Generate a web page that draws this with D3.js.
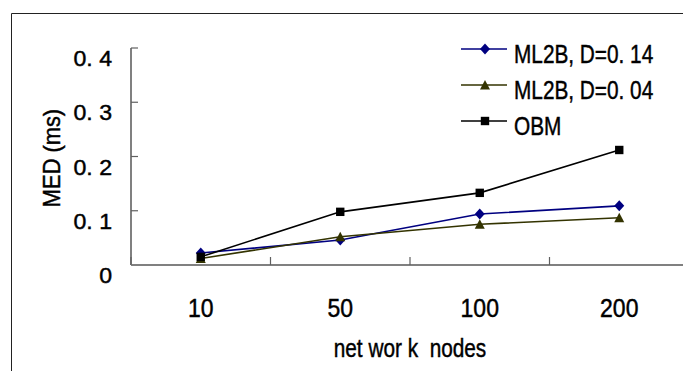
<!DOCTYPE html>
<html>
<head>
<meta charset="utf-8">
<script src="https://cdn.jsdelivr.net/npm/d3@7"></script>
<style>
    body { margin: 0; background: #fff; }
    text {
        font-family: "Liberation Sans", Arial, sans-serif;
        fill: #000;
        stroke: #000;
        stroke-width: 0.45px;
        white-space: pre;
    }
</style>
</head>
<body>
<div class="chart"></div>
<script>
'use strict';

const width = 683;
const height = 371;

// Data
const categories = ['10', '50', '100', '200'];
const ml2bHigh = [0.022, 0.046, 0.094, 0.109];
const ml2bLow = [0.012, 0.052, 0.075, 0.087];
const obm = [0.015, 0.098, 0.133, 0.212];
const yTicks = [0, 0.1, 0.2, 0.3, 0.4];
const seriesNames = ['ML2B, D=0. 14', 'ML2B, D=0. 04', 'OBM'];

const plot = {left: 131, right: 689, top: 48, bottom: 265};

const series = [
    {name: seriesNames[0], values: ml2bHigh, color: '#000080', marker: 'diamond'},
    {name: seriesNames[1], values: ml2bLow, color: '#333300', marker: 'triangle'},
    {name: seriesNames[2], values: obm, color: '#000000', marker: 'square'},
];

const xScale = d3.scaleBand()
    .domain(categories)
    .range([plot.left, plot.right])
    .padding(0);

const yScale = d3.scaleLinear()
    .domain([0, 0.4])
    .range([plot.bottom, plot.top]);

const markerPaths = {
    diamond: 'M0,-5.5L5,0L0,5.5L-5,0Z',
    triangle: 'M0,-5L5,4.5L-5,4.5Z',
    square: 'M-4.2,-4.2H4.2V4.2H-4.2Z',
};

// the original glyphs are narrow: place text by transform and squeeze sideways
function place(x, y, k, rot) {
    return `translate(${x},${y})` + (rot ? ` rotate(${rot})` : '') + ` scale(${k},1)`;
}

function yFormat(d) {
    return d === 0 ? '0' : d3.format('.1f')(d).replace('.', '. ');
}

function drawFrame(svg) {
    svg.append('path')
        .attr('d', `M11.5,${height + 2}V13.5H${width + 2}`)
        .attr('fill', 'none')
        .attr('stroke', '#222')
        .attr('stroke-width', 1);
}

function drawXAxis(svg) {
    // ticks sit on the category borders, pointing inward
    const borders = d3.range(categories.length + 1).map(i => plot.left + i * xScale.step());
    const axis = svg.append('g').attr('class', 'axis axis--x');

    axis.append('line')
        .attr('x1', plot.left).attr('x2', plot.right)
        .attr('y1', plot.bottom).attr('y2', plot.bottom)
        .attr('stroke', '#808080').attr('stroke-width', 2);

    axis.selectAll('.tick')
        .data(borders)
        .enter().append('line')
        .attr('class', 'tick')
        .attr('x1', d => d).attr('x2', d => d)
        .attr('y1', plot.bottom).attr('y2', plot.bottom - 8)
        .attr('stroke', '#606060').attr('stroke-width', 1.2);

    axis.selectAll('.label')
        .data(categories)
        .enter().append('text')
        .attr('class', 'label')
        .attr('transform', d => place(xScale(d) + xScale.bandwidth() / 2, plot.bottom + 52, 0.92))
        .attr('text-anchor', 'middle')
        .style('font-size', '25px')
        .text(d => d);

    svg.append('text')
        .attr('transform', place((plot.left + plot.right) / 2, 357, 0.8))
        .attr('text-anchor', 'middle')
        .style('font-size', '26px')
        .text('net wor k  nodes');
}

function drawYAxis(svg) {
    const axis = svg.append('g').attr('class', 'axis axis--y');

    axis.append('line')
        .attr('x1', plot.left).attr('x2', plot.left)
        .attr('y1', plot.top).attr('y2', plot.bottom)
        .attr('stroke', '#808080').attr('stroke-width', 2);

    axis.selectAll('.tick')
        .data(yTicks)
        .enter().append('line')
        .attr('class', 'tick')
        .attr('x1', plot.left).attr('x2', plot.left + 7)
        .attr('y1', d => yScale(d)).attr('y2', d => yScale(d))
        .attr('stroke', '#606060').attr('stroke-width', 1.2);

    axis.selectAll('.label')
        .data(yTicks)
        .enter().append('text')
        .attr('class', 'label')
        .attr('transform', d => place(112, yScale(d) + 18, 1.05))
        .attr('text-anchor', 'end')
        .style('font-size', '22px')
        .text(yFormat);

    svg.append('text')
        .attr('transform', place(60, 158, 0.95, -90))
        .attr('text-anchor', 'middle')
        .style('font-size', '23px')
        .text('MED (ms)');
}

function drawSeries(svg) {
    const line = d3.line()
        .x((d, i) => xScale(categories[i]) + xScale.bandwidth() / 2)
        .y(d => yScale(d));

    const g = svg.selectAll('.series')
        .data(series)
        .enter().append('g')
        .attr('class', 'series');

    g.append('path')
        .attr('d', d => line(d.values))
        .attr('fill', 'none')
        .attr('stroke', d => d.color)
        .attr('stroke-width', 1.6);

    g.each(function (s) {
        d3.select(this).selectAll('.marker')
            .data(s.values)
            .enter().append('path')
            .attr('class', 'marker')
            .attr('transform', (d, i) => `translate(${xScale(categories[i]) + xScale.bandwidth() / 2},${yScale(d)})`)
            .attr('d', markerPaths[s.marker])
            .attr('fill', s.color);
    });
}

function drawLegend(svg) {
    const rowY = d3.scaleLinear().domain([0, 2]).range([49, 121]);
    const rows = svg.append('g').attr('class', 'legend')
        .selectAll('g')
        .data(series)
        .enter().append('g')
        .attr('transform', (d, i) => `translate(461,${rowY(i)})`);

    rows.append('line')
        .attr('x1', 0).attr('x2', 46)
        .attr('stroke', d => d.color)
        .attr('stroke-width', 1.6);

    rows.append('path')
        .attr('transform', 'translate(24,0)')
        .attr('d', d => markerPaths[d.marker])
        .attr('fill', d => d.color);

    rows.append('text')
        .attr('transform', place(53, 14, 0.8))
        .style('font-size', '26px')
        .text(d => d.name);
}

function run() {
    const svg = d3.select('.chart').append('svg')
        .attr('width', width)
        .attr('height', height)
        .style('display', 'block');

    drawFrame(svg);
    drawYAxis(svg);
    drawXAxis(svg);
    drawSeries(svg);
    drawLegend(svg);
}

run();
</script>
</body>
</html>
